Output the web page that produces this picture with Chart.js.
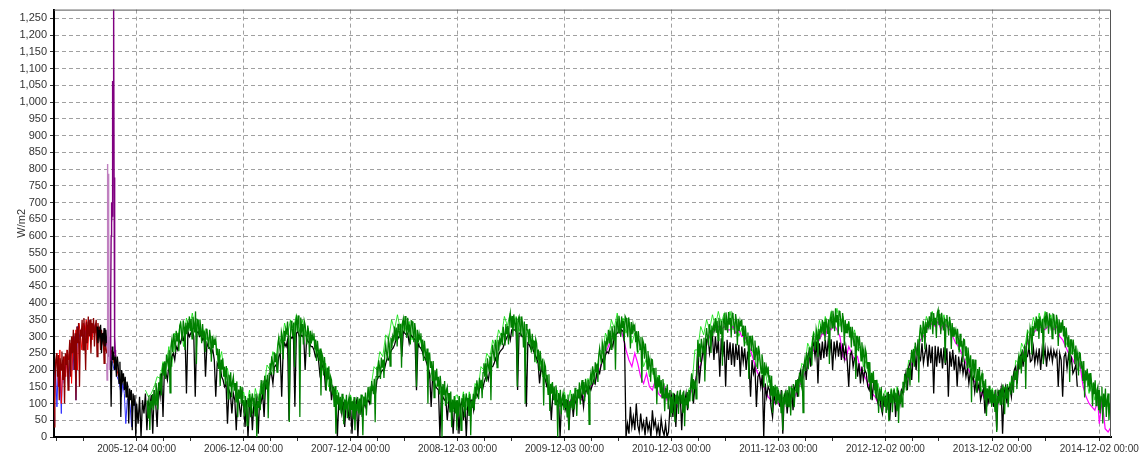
<!DOCTYPE html>
<html>
<head>
<meta charset="utf-8">
<script src="https://cdn.jsdelivr.net/npm/chart.js@4"></script>
<style>
  html, body { margin: 0; padding: 0; background: #fff; }
  #wrap { width: 1143px; height: 459px; position: relative; }
</style>
</head>
<body>
<div id="wrap"><canvas id="c"></canvas></div>
<script>
// ---- axis labels -------------------------------------------------------
const tickDates = ['2005-12-04', '2006-12-04', '2007-12-04', '2008-12-03', '2009-12-03',
                   '2010-12-03', '2011-12-03', '2012-12-02', '2013-12-02', '2014-12-02'];
const yTicks = [0, 50, 100, 150, 200, 250, 300, 350, 400, 450, 500, 550, 600, 650, 700, 750,
                800, 850, 900, 950, 1000, 1050, 1100, 1150, 1200, 1250];
const axisStart = '2005-02-25';
const axisEnd = '2015-01-11';

// ---- readings (W/m2) ---------------------------------------------------
// sampling intervals in days; each yearly block starts on its tick date
const STEP_FINE = 3;
const STEP = 5;
const STEP_COARSE = 10;
const STEP_DAILY = 1;
const preStart = '2005-02-25';
const blackStart = '2005-07-22';

const darkRedPre = [30, 150, 230, 250, 180, 245, 110, 235, 200, 255,
  170, 240, 100, 250, 215, 260, 140, 245, 290, 180,
  300, 250, 320, 200, 310, 110, 330, 280, 340, 150,
  320, 300, 350, 260, 355, 310, 200, 345, 280, 360,
  300, 350, 250, 340, 310, 355, 270, 330, 350, 240,
  340, 300, 330, 260, 320, 290, 310, 220, 300, 270, 250];
const redPre = [60, 200, 250, 150, 260, 100, 220, 240, 180, 260,
  230, 280, 160, 300, 270, 320, 200, 340, 310, 260,
  340, 300, 350, 260, 330, 350, 290, 340, 310, 330,
  300, 320, 280, 310, 260, 300, 280, 270, 250, 260, 240, 220, 240, 200, 180,
  null, null, null, null, null, null, null, null, null, null, null, null];
const bluePre = [40, 210, 90, 230, 200, 70, 230, 160, 240, 200,
  150, 250, 270, 200, 300, 110, 330, 290, 320, 300,
  330, 290, 340, 310, 350, 330, 300, 340, 320, 330,
  310, 300, 320, 290, 300, 270, 280, 250, 260, 240, 220, 200, 210, 180, 170,
  150, 120, 160, 130, 40, 110, 120, 90, 30, 100, 110, 80];
const blackPre = [330, 280, 320, 300, 335, 250, 310, 290, 325, 270,
  320, 280, 300, 240, 290, 260, 90, 270, 230, 255,
  200, 245, 180, 240, 215, 160, 225, 60, 200, 170,
  190, 140, 180, 120, 165, 150, 40, 145, 110, 140,
  20, 130, 95, 125, 0];

// short bursts of faulty readings, daily
const plumStart = '2005-08-24';
const plumBurst = [220, 170, 500, 815, 400, 600, 786, 650, 260, 300, 200];
const purpleStart = '2005-09-05';
const purpleBurst = [230, 300, 420, 600, 700, 640, 660, 835, 780, 1063, 900, 1300, 1300, 775, 500, 250, 300, 260, 240];

// main pyranometer, every 3 days
const green2006 = [
  null, null, null, null, null, null, null, null, null, null,
  null, null, 109, 57, 124, 21, 108, 86, 128, 80,
  140, 96, 161, 137, 82, 163, 138, 189, 124, 180,
  220, 183, 226, 173, 246, 229, 212, 259, 132, 270,
  290, 254, 309, 288, 253, 317, 287, 311, 256, 332,
  340, 311, 287, 348, 329, 260, 341, 307, 338, 325,
  360, 316, 352, 293, 359, 336, 312, 375, 218, 350,
  347, 304, 351, 323, 280, 337, 299, 316, 253, 322,
  323, 290, 263, 320, 298, 225, 302, 265, 292, 275,
  290, 244, 264, 203, 263, 152, 231, 201, 235, 180,
  210, 156, 212, 178, 114, 186, 152, 193, 119, 165,
  180, 138, 161, 103, 166, 59, 142, 114, 152, 100,
  150, 95];
const green2007 = [
  110, 61, 122, 93, 34, 116, 89, 128, 59, 110,
  130, 91, 117, 63, 129, 0, 108, 87, 129, 80,
  170, 129, 169, 113, 183, 162, 142, 186, 56, 190,
  220, 186, 241, 222, 187, 253, 223, 249, 194, 272,
  295, 269, 249, 313, 298, 232, 317, 286, 321, 310,
  345, 302, 45, 280, 347, 323, 300, 342, 208, 340,
  355, 314, 363, 338, 60, 357, 319, 337, 276, 347,
  335, 303, 276, 333, 311, 239, 317, 279, 307, 290,
  310, 261, 291, 227, 287, 258, 228, 264, 124, 250,
  240, 184, 239, 203, 138, 207, 172, 211, 136, 180,
  170, 127, 148, 90, 152, 10, 125, 97, 133, 80,
  120, 70, 129, 98, 38, 112, 82, 126, 56, 105,
  120, 60];
const green2008 = [
  120, 81, 107, 53, 119, 20, 98, 77, 119, 70,
  115, 66, 127, 98, 5, 121, 94, 133, 64, 115,
  150, 111, 151, 97, 167, 148, 128, 174, 44, 180,
  210, 174, 229, 208, 173, 237, 207, 231, 176, 252,
  275, 249, 229, 293, 278, 212, 297, 266, 301, 290,
  330, 288, 327, 270, 338, 317, 295, 338, 207, 340,
  353, 312, 361, 336, 296, 356, 318, 336, 276, 347,
  345, 312, 283, 340, 317, 150, 320, 282, 308, 290,
  310, 261, 291, 227, 287, 258, 228, 264, 100, 250,
  250, 206, 226, 167, 227, 118, 198, 169, 204, 150,
  180, 127, 183, 150, 0, 158, 125, 167, 93, 140,
  150, 108, 131, 73, 136, 29, 112, 84, 122, 70,
  110, 20];
const green2009 = [
  110, 61, 122, 93, 20, 116, 89, 128, 59, 110,
  130, 91, 117, 63, 129, 5, 108, 87, 129, 80,
  150, 114, 169, 148, 113, 177, 147, 171, 116, 192,
  220, 180, 220, 165, 235, 215, 195, 240, 110, 245,
  275, 248, 227, 290, 273, 207, 290, 258, 292, 280,
  310, 274, 329, 308, 273, 337, 307, 331, 276, 352,
  370, 326, 361, 301, 366, 341, 316, 357, 150, 352,
  360, 328, 302, 360, 338, 267, 345, 100, 337, 320,
  320, 277, 323, 295, 252, 308, 270, 287, 223, 292,
  280, 231, 261, 197, 257, 228, 198, 234, 94, 220,
  210, 166, 186, 127, 187, 78, 158, 129, 164, 110,
  150, 97, 154, 122, 0, 131, 98, 141, 68, 115,
  130, 80];
const green2010 = [
  125, 87, 113, 60, 127, 22, 107, 87, 128, 80,
  130, 83, 147, 120, 63, 142, 115, 163, 97, 150,
  170, 127, 164, 107, 174, 151, 128, 171, 38, 170,
  190, 156, 211, 192, 157, 223, 193, 219, 164, 242,
  265, 239, 219, 283, 268, 202, 287, 256, 291, 280,
  320, 279, 318, 262, 331, 309, 288, 332, 201, 335,
  350, 311, 362, 338, 299, 360, 325, 346, 287, 361,
  355, 324, 298, 357, 336, 264, 343, 307, 336, 320,
  330, 283, 316, 253, 316, 289, 262, 299, 162, 290,
  280, 234, 279, 248, 203, 257, 216, 231, 165, 232,
  230, 186, 206, 147, 207, 98, 178, 149, 184, 130,
  170, 117, 173, 140, 77, 148, 115, 157, 83, 130,
  140, 60];
const green2011 = [
  120, 71, 132, 103, 44, 126, 99, 138, 69, 120,
  140, 101, 126, 72, 139, 32, 118, 95, 134, 85,
  140, 106, 161, 190, 107, 173, 143, 169, 114, 192,
  290, 239, 279, 223, 293, 272, 252, 296, 166, 300,
  325, 297, 274, 337, 319, 251, 333, 301, 333, 320,
  355, 311, 347, 288, 356, 332, 307, 348, 213, 345,
  360, 321, 372, 349, 311, 373, 335, 356, 297, 370,
  365, 334, 308, 367, 346, 274, 353, 317, 346, 330,
  350, 302, 333, 270, 332, 303, 275, 312, 173, 300,
  300, 257, 303, 275, 232, 288, 250, 267, 203, 272,
  255, 221, 191, 247, 222, 148, 223, 184, 209, 190,
  210, 164, 184, 123, 183, 72, 152, 121, 156, 100,
  150, 110];
const green2012 = [
  140, 101, 127, 73, 139, 20, 120, 97, 138, 90,
  140, 91, 152, 123, 64, 146, 119, 158, 89, 140,
  170, 132, 173, 120, 192, 173, 155, 202, 73, 210,
  230, 197, 253, 235, 202, 268, 240, 267, 213, 292,
  305, 279, 258, 322, 306, 239, 323, 292, 326, 315,
  350, 307, 344, 287, 354, 331, 308, 351, 218, 350,
  365, 326, 377, 354, 316, 384, 342, 364, 304, 376,
  375, 342, 313, 370, 347, 273, 350, 312, 338, 320,
  345, 297, 329, 267, 329, 301, 273, 311, 173, 300,
  300, 256, 301, 272, 227, 283, 243, 259, 194, 262,
  250, 204, 224, 163, 223, 112, 192, 161, 196, 140,
  170, 116, 171, 137, 72, 143, 108, 149, 74, 120,
  130, 90];
const green2013 = [
  120, 72, 133, 105, 47, 128, 102, 142, 74, 125,
  145, 106, 132, 77, 147, 42, 123, 99, 139, 90,
  165, 132, 189, 172, 139, 206, 178, 206, 153, 232,
  260, 222, 263, 210, 282, 263, 245, 292, 163, 300,
  335, 307, 284, 347, 329, 261, 343, 311, 343, 330,
  360, 321, 372, 348, 307, 370, 334, 356, 296, 370,
  380, 334, 368, 307, 371, 344, 318, 357, 221, 350,
  364, 331, 303, 359, 336, 263, 340, 301, 328, 310,
  320, 277, 323, 295, 252, 308, 270, 287, 223, 292,
  290, 241, 271, 207, 267, 238, 208, 244, 104, 230,
  230, 176, 231, 197, 132, 203, 168, 209, 134, 180,
  190, 147, 168, 110, 172, 63, 145, 117, 153, 100,
  140, 90];
const green2014 = [
  140, 102, 128, 75, 142, 15, 122, 100, 141, 95,
  145, 96, 157, 128, 68, 151, 114, 158, 89, 140,
  160, 127, 183, 165, 132, 198, 170, 197, 143, 222,
  240, 202, 243, 190, 262, 243, 225, 272, 143, 280,
  305, 280, 260, 326, 311, 246, 331, 302, 337, 327,
  360, 316, 352, 293, 360, 336, 311, 353, 218, 350,
  362, 323, 373, 348, 308, 369, 334, 354, 294, 367,
  365, 333, 307, 365, 343, 272, 350, 313, 342, 325,
  350, 301, 331, 267, 327, 298, 268, 304, 164, 290,
  290, 246, 291, 262, 217, 273, 233, 249, 184, 252,
  250, 206, 226, 167, 227, 118, 198, 169, 204, 150,
  190, 136, 191, 157, 92, 163, 128, 169, 94, 140,
  150, 80];
const greenTail = [140, 70, 120, 150, 40, 130, 90, 145, 60, 110, 130, 50, 100, 70];

// reference pyranometer, every 5 days
const black2006 = [100, 40, 120, 0, 110, 70, 130, 20, 105, 90,
  125, 10, 140, 100, 30, 150, 120, 190, 60, 210,
  190, 170, 215, 200, 240, 250, 230, 270, 260, 290,
  280, 300, 290, 310, 130, 315, 300, 310, 320, 300,
  120, 310, 315, 300, 305, 290, 300, 180, 280, 270,
  265, 250, 260, 230, 120, 220, 210, 215, 180, 170,
  150, 160, 40, 140, 130, 70, 130, 110, 20, 120, 100, 60, 110];
const black2007 = [100, 30, 110, 0, 95, 110, 20, 100, 90, 115,
  10, 120, 105, 130, 60, 160, 170, 150, 185, 190,
  160, 210, 215, 200, 240, 250, 120, 260, 280, 270,
  290, 50, 300, 295, 305, 90, 310, 315, 300, 305,
  300, 305, 200, 295, 285, 280, 270, 270, 260, 240,
  250, 235, 190, 220, 210, 200, 140, 190, 180, 170,
  110, 150, 140, 120, 0, 110, 100, 70, 105, 30, 100, 95, 50];
const black2008 = [95, 10, 100, 80, 105, 0, 95, 110, 60, 105,
  90, 105, 110, 100, 140, 140, 150, 130, 170, 180,
  180, 195, 200, 200, 220, 235, 230, 250, 260, 265,
  275, 290, 290, 300, 305, 240, 315, 310, 305, 310,
  280, 305, 300, 295, 290, 140, 280, 270, 265, 255,
  240, 235, 220, 205, 190, 90, 180, 165, 150, 145,
  140, 0, 130, 120, 110, 115, 50, 105, 95, 100, 10, 90, 85];
const black2009 = [100, 10, 95, 105, 50, 100, 0, 105, 90, 110,
  110, 80, 120, 130, 120, 145, 150, 140, 160, 175,
  185, 170, 200, 210, 210, 220, 235, 220, 245, 255,
  260, 265, 280, 290, 300, 310, 290, 320, 320, 320,
  315, 140, 310, 310, 300, 300, 290, 90, 280, 275,
  265, 270, 255, 245, 235, 220, 160, 205, 195, 180,
  170, 150, 150, 140, 50, 125, 120, 125, 105, 110, 0, 105, 95];
const black2010 = [100, 80, 110, 20, 100, 115, 60, 110, 100, 130,
  125, 110, 130, 90, 135, 140, 130, 150, 140, 155,
  170, 160, 190, 200, 190, 215, 230, 220, 245, 255,
  250, 265, 280, 270, 300, 305, 310, 315, 310, 320,
  315, 280, 0,
  40, 10, 90, 30, 60, 20, 100, 35, 15, 70,
  25, 45, 5, 60, 20, 40, 0, 80, 30, 50,
  10, 35, 0, 55, 20, 5, 40, 0, 15, 90];
const black2011 = [120, 60, 130, 30, 125, 110, 130, 20, 120, 100,
  130, 80, 125, 140, 170, 100, 150, 180, 260, 160,
  210, 240, 270, 200, 290, 300, 250, 280, 300, 230,
  300, 250, 290, 180, 295, 240, 285, 150, 290, 230,
  283, 215, 280, 210, 278, 230, 275, 180, 270, 225,
  265, 200, 255, 215, 120, 230, 190, 210, 90, 180,
  190, 150, 185, 0, 160, 120, 150, 140, 90, 60, 130, 100, 110];
const black2012 = [130, 90, 140, 10, 120, 135, 70, 125, 110, 140,
  80, 145, 160, 120, 175, 195, 150, 210, 220, 170,
  240, 255, 210, 270, 280, 240, 285, 160, 280, 230,
  285, 235, 290, 240, 288, 250, 292, 200, 285, 245,
  288, 240, 282, 230, 280, 235, 270, 225, 150, 245,
  255, 210, 235, 240, 180, 220, 160, 210, 170, 200,
  190, 150, 140, 180, 110, 165, 150, 120, 100, 135, 90, 70, 115];
const black2013 = [120, 80, 135, 50, 130, 110, 140, 60, 125, 135,
  100, 140, 130, 160, 190, 140, 210, 225, 170, 245,
  250, 200, 270, 240, 230, 280, 220, 250, 270, 210,
  275, 220, 270, 130, 272, 210, 270, 220, 265, 205,
  268, 215, 265, 120, 255, 210, 260, 200, 245, 150,
  240, 200, 230, 190, 220, 180, 205, 160, 195, 170,
  180, 135, 170, 140, 160, 110, 130, 145, 70, 130, 100, 120, 110];
const black2014 = [130, 90, 140, 20, 135, 120, 145, 10, 130, 150,
  100, 145, 150, 120, 175, 200, 210, 160, 225, 240,
  250, 210, 265, 240, 240, 270, 225, 230, 268, 220,
  255, 225, 265, 200, 262, 230, 265, 210, 260, 235,
  262, 225, 258, 240, 255, 150, 250, 230, 120, 240,
  250, 205, 245, 220, 235, 190, 200, 215, 150,
  null, null, null, null, null, null, null, null, null, null, null, null, null, null];

// secondary sensors, every 10 days
const magenta2010 = [100, 90, 110, 80, 115, 120, 110, 130, 140, 150,
  160, 180, 200, 230, 250, 270, 290, 300, 310, 320,
  300, 260, 230, 210, 250, 220, 180, 160, 190, 150,
  140, 170, 130, 120, 150, 110, 130];
const magenta2011 = [100, 110, 90, 115, 105, 120, 120, 140, 160, 200,
  215, 260, 280, 300, 310, 320, 330, 320, 330, 320,
  320, 330, 310, 320, 300, 300, 280, 260, 230, 200,
  180, 160, 140, 120, 110, 100, 110];
const magenta2012 = [100, 90, 110, 100, 110, 100, 130, 150, 165, 190,
  210, 240, 260, 280, 290, 310, 300, 330, 320, 335,
  320, 300, 240, 230, 270, 250, 230, 240, 200, 190,
  170, 150, 130, 120, 100, 90, 100];
const magenta2013 = [100, 110, 100, 120, 110, 120, 140, 170, 190, 220,
  250, 270, 290, 300, 320, 330, 340, 330, 345, 320,
  340, 330, 320, 300, 280, 270, 250, 230, 210, 190,
  170, 160, 140, 130, 110, 100, 110];
const magenta2014 = [110, 120, 100, 130, 120, 130, 140, 160, 180, 210,
  230, 260, 280, 300, 310, 320, 330, 325, 320, 330,
  335, 320, 330, 300, 290, 270, 250, 240, 220, 240,
  210, 150, 120, 100, 90, 80, 110];
const magentaTail = [40, 110, 25, 15, 30];

const lime2006 = [null, null, null, 140, 120, 130, 150, 180, 175, 225,
  205, 270, 210, 310, 295, 345, 270, 355, 325, 370,
  320, 350, 300, 320, 290, 300, 270, 285, 220, 255,
  180, 205, 150, 160, 130, 120, 110];
const lime2007 = [135, 90, 140, 70, 145, 110, 160, 150, 215, 200,
  255, 230, 300, 280, 340, 305, 350, 320, 365, 315,
  350, 300, 325, 280, 300, 240, 260, 200, 220, 150,
  160, 105, 140, 90, 120, 95, 110];
const lime2008 = [125, 90, 110, 95, 125, 95, 120, 150, 210, 200,
  255, 240, 305, 290, 350, 320, 365, 320, 350, 315,
  345, 290, 320, 265, 290, 230, 240, 175, 200, 145,
  170, 120, 150, 100, 120, 75, 125];
const lime2009 = [125, 90, 135, 80, 135, 95, 160, 140, 210, 200,
  250, 235, 290, 265, 320, 300, 360, 332, 370, 325,
  360, 315, 340, 290, 320, 260, 290, 220, 240, 180,
  190, 130, 160, 110, 140, 90, 125];
const lime2010 = [135, 90, 140, 85, 140, 130, 150, 120, 175, 150,
  200, 200, 260, 250, 310, 290, 350, 325, 370, 320,
  355, 310, 340, 280, 310, 250, 270, 210, 235, 180,
  205, 155, 185, 130, 160, 110, 140];
const lime2011 = [135, 100, 130, 100, 135, 100, 145, 150, 260, 260,
  330, 305, 350, 320, 365, 330, 375, 338, 370, 325,
  375, 320, 350, 300, 325, 275, 300, 240, 265, 210,
  240, 180, 200, 145, 170, 120, 150];
const lime2012 = [140, 105, 130, 110, 150, 110, 170, 160, 220, 210,
  280, 260, 315, 290, 348, 315, 360, 325, 375, 340,
  384, 330, 360, 310, 345, 290, 320, 260, 270, 210,
  229, 170, 190, 130, 160, 105, 130];
const lime2013 = [140, 95, 145, 100, 150, 105, 150, 170, 230, 220,
  270, 260, 330, 308, 360, 330, 375, 338, 375, 330,
  365, 329, 350, 300, 318, 260, 280, 220, 250, 190,
  210, 150, 180, 130, 160, 110, 140];
const lime2014 = [145, 110, 140, 115, 150, 120, 165, 140, 229, 220,
  280, 260, 320, 300, 357, 325, 370, 332, 375, 332,
  365, 320, 357, 310, 330, 270, 295, 249, 260, 200,
  220, 160, 185, 130, 160, 110, 140];
const limeTail = [130, 100, 120, 90, 110];

// ---- helpers -----------------------------------------------------------
function dayNum(s) {
  const [y, m, d] = s.split('-').map(Number);
  return Date.UTC(y, m - 1, d) / 86400000;
}
// blocks: [startDate, stepDays, values]
function toPoints(blocks) {
  const pts = [];
  for (const [start, step, vals] of blocks) {
    const d0 = dayNum(start);
    vals.forEach((v, i) => pts.push({ x: d0 + i * step, y: v }));
  }
  return pts;
}
const T = tickDates;
const yearly = (arrs, step, tail, firstYear) => {
  const k0 = firstYear || 0;
  const blocks = arrs.map((a, k) => [T[k0 + k], step, a]);
  if (tail) blocks.push([T[9], step, tail]);
  return blocks;
};

const greenPts = toPoints(yearly([green2006, green2007, green2008, green2009, green2010,
  green2011, green2012, green2013, green2014], STEP_FINE, greenTail));
const blackPts = toPoints([[blackStart, STEP_FINE, blackPre]].concat(yearly([black2006, black2007,
  black2008, black2009, black2010, black2011, black2012, black2013, black2014], STEP)));
const magentaPts = toPoints(yearly([magenta2010, magenta2011, magenta2012, magenta2013,
  magenta2014], STEP_COARSE, magentaTail, 4));
const limePts = toPoints(yearly([lime2006, lime2007, lime2008, lime2009, lime2010,
  lime2011, lime2012, lime2013, lime2014], STEP_COARSE, limeTail));
const darkRedPts = toPoints([[preStart, STEP_FINE, darkRedPre]]);
const redPts = toPoints([[preStart, STEP, redPre]]);
const bluePts = toPoints([[preStart, STEP, bluePre]]);
const purplePts = toPoints([[purpleStart, STEP_DAILY, purpleBurst]]);
const plumPts = toPoints([[plumStart, STEP_DAILY, plumBurst]]);

// ---- tick layout -------------------------------------------------------
const xMin = dayNum(axisStart), xMax = dayNum(axisEnd);
const yearTickVals = tickDates.map(dayNum);
const tickLabel = new Map(tickDates.map(s => [dayNum(s), s + ' 00:00']));
const xTickVals = [yearTickVals[0] - 274, yearTickVals[0] - 183];
for (const v of yearTickVals) xTickVals.push(v, v + 91, v + 183);
const xTicksInRange = xTickVals.filter(v => v >= xMin && v <= xMax);

const line = (label, data, color, width) => ({
  label, data, borderColor: color, backgroundColor: color,
  borderWidth: width || 1, pointRadius: 0, tension: 0, fill: false
});

const frame = {
  id: 'frame',
  afterDraw(chart) {
    const { ctx, chartArea: a } = chart;
    ctx.save();
    ctx.strokeStyle = '#555';
    ctx.lineWidth = 1;
    ctx.beginPath();
    ctx.moveTo(a.left, a.top + 0.5);
    ctx.lineTo(a.right - 0.5, a.top + 0.5);
    ctx.lineTo(a.right - 0.5, a.bottom);
    ctx.stroke();
    ctx.restore();
  }
};

new Chart(document.getElementById('c'), {
  type: 'line',
  data: {
    datasets: [
      line('Sensor P1', purplePts, '#800080', 1.4),
      line('Sensor P2', plumPts, '#c080c0', 1.4),
      line('Sensor G1', greenPts, '#008000', 1.3),
      line('Sensor K1', blackPts, '#000000', 1.3),
      line('Sensor R1', darkRedPts, '#8b0000', 1.3),
      line('Sensor R2', redPts, '#ff0000', 1),
      line('Sensor B1', bluePts, '#3030ff', 1),
      line('Sensor M1', magentaPts, '#ff00ff', 1.2),
      line('Sensor G2', limePts, '#00e000', 0.8)
    ]
  },
  plugins: [frame],
  options: {
    responsive: true,
    maintainAspectRatio: false,
    animation: false,
    events: [],
    layout: { padding: { top: 8, right: 32, left: 0, bottom: 0 } },
    plugins: { legend: { display: false }, tooltip: { enabled: false } },
    scales: {
      x: {
        type: 'linear',
        min: xMin,
        max: xMax,
        afterBuildTicks: s => { s.ticks = xTicksInRange.map(v => ({ value: v })); },
        afterFit: s => { s.height = 22; },
        ticks: {
          autoSkip: false, maxRotation: 0, minRotation: 0, padding: 2,
          color: '#333', font: { family: 'Liberation Sans', size: 10 },
          callback: v => tickLabel.get(v) || ''
        },
        grid: {
          color: c => (c.tick && tickLabel.has(c.tick.value)) ? '#a0a0a0' : 'rgba(0,0,0,0)',
          tickColor: '#333', tickLength: 4, lineWidth: 1
        },
        border: { color: '#000', width: 2, dash: [4, 3] }
      },
      y: {
        min: 0,
        max: 1276,
        afterBuildTicks: s => { s.ticks = yTicks.map(v => ({ value: v })); },
        afterFit: s => { s.width = 54; },
        ticks: {
          padding: 3, color: '#333',
          font: { family: 'Liberation Sans', size: 11 }
        },
        grid: { color: '#a0a0a0', tickColor: '#333', tickLength: 4, lineWidth: 1 },
        border: { color: '#000', width: 2, dash: [4, 3] },
        title: {
          display: true, text: 'W/m2', color: '#333',
          font: { family: 'Liberation Sans', size: 11 },
          padding: { top: 15, bottom: 0 }
        }
      }
    }
  }
});
</script>
</body>
</html>
